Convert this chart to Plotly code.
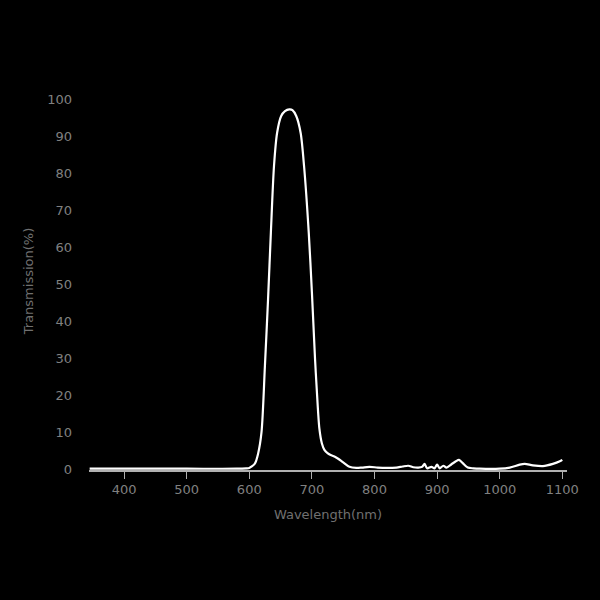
import plotly.graph_objects as go

# transmission curve
wavelength = [345, 400, 500, 580, 595, 600, 604, 609, 614, 619.5, 625, 630, 634.5, 639.5,
              644.5, 651, 657, 664, 669, 675, 682, 687.5, 695, 700, 705, 708, 712, 716,
              720, 725, 730, 736, 742, 750, 760, 771, 780, 792,
              805, 819, 835, 845, 854, 862, 870, 876, 880, 884, 891, 896, 900, 904, 910, 915,
              923, 930, 935, 941, 949, 958, 968, 1000, 1016, 1032, 1040, 1053, 1069, 1085,
              1096, 1100]
transmission = [0.2, 0.2, 0.2, 0.2, 0.3, 0.4, 0.8, 1.6, 4.2, 10, 28, 46, 64, 82,
                91, 95.5, 96.8, 97.3, 97.1, 95.5, 91, 82, 64, 48, 30, 21, 11, 7,
                5.3, 4.4, 3.9, 3.5, 2.9, 1.9, 0.7, 0.4, 0.5, 0.7,
                0.5, 0.4, 0.5, 0.8, 1.0, 0.6, 0.5, 0.7, 1.5, 0.3, 0.7, 0.3, 1.3, 0.3, 1.0, 0.5,
                1.4, 2.2, 2.6, 1.7, 0.5, 0.3, 0.2, 0.2, 0.5, 1.3, 1.5, 1.1, 0.9, 1.5,
                2.2, 2.6]

x_ticks = [400, 500, 600, 700, 800, 900, 1000, 1100]
y_ticks = [0, 10, 20, 30, 40, 50, 60, 70, 80, 90, 100]

fig = go.Figure()

fig.add_trace(go.Scatter(
    x=wavelength,
    y=transmission,
    mode='lines',
    line=dict(color='white', width=2.2, shape='spline', smoothing=0.8),
    hoverinfo='skip'
))

fig.update_layout(
    width=600,
    height=600,
    paper_bgcolor='black',
    plot_bgcolor='black',
    showlegend=False,
    margin=dict(l=89, r=33, t=92, b=130),
    font=dict(family='DejaVu Sans', size=13, color='#808080'),
    xaxis=dict(
        range=[344, 1107.5],
        tickvals=x_ticks,
        showgrid=False,
        zeroline=False,
        showline=True,
        linecolor='#b0b0b0',
        linewidth=1.5,
        ticks='outside',
        ticklen=7,
        tickcolor='#b0b0b0',
        tickfont=dict(size=13, color='#808080'),
        title=dict(text='Wavelength(nm)', font=dict(size=13, color='#707070'), standoff=14)
    ),
    yaxis=dict(
        range=[-0.15, 102],
        tickvals=y_ticks,
        showgrid=False,
        zeroline=False,
        showline=False,
        ticks='',
        ticklabelstandoff=16,
        tickfont=dict(size=13, color='#808080'),
        title=dict(text='Transmission(%)', font=dict(size=13, color='#707070'), standoff=10)
    )
)

# page without the default white body margin, no toolbar
fig.write_html("out.html",
               config={'displayModeBar': False},
               post_script="document.body.style.margin='0';document.body.style.background='black';")
